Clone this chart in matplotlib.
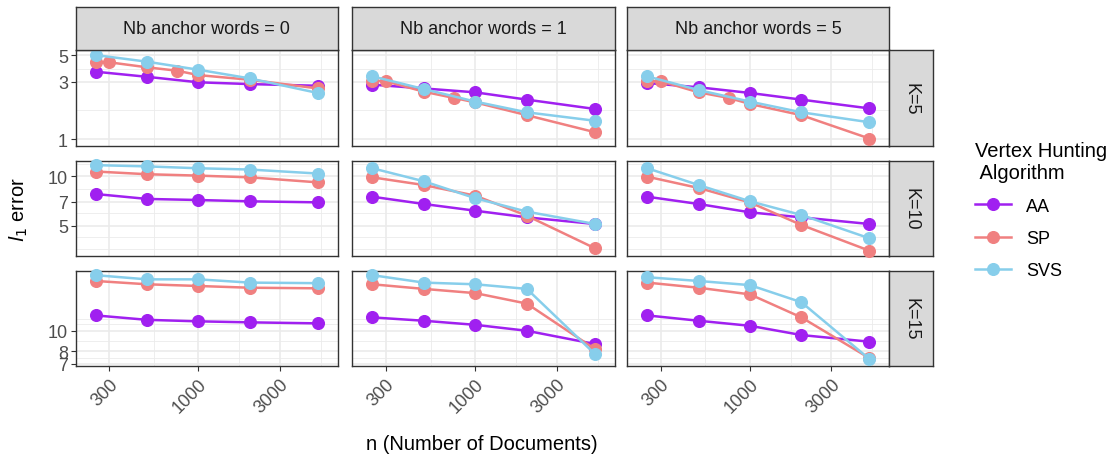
import matplotlib
matplotlib.use("Agg")
import matplotlib.pyplot as plt
from matplotlib.lines import Line2D
import numpy as np

plt.rcParams['font.family'] = ['Liberation Sans', 'DejaVu Sans']

# ---------------- data ----------------
anchor_words = [0, 1, 5]
K_values = [5, 10, 15]
algorithms = ["AA", "SP", "SVS"]
n_docs = [250, 500, 1000, 2000, 5000]
n_docs_sp_k5 = [250, 300, 500, 750, 1000, 2000, 5000]

aa_k5_a0 = [3.64, 3.30, 2.97, 2.87, 2.78]
sp_k5_a0 = [4.40, 4.36, 3.96, 3.71, 3.41, 3.12, 2.64]
svs_k5_a0 = [5.01, 4.41, 3.78, 3.20, 2.42]
aa_k5_a1 = [2.84, 2.64, 2.45, 2.13, 1.78]
sp_k5_a1 = [3.06, 3.03, 2.48, 2.20, 2.02, 1.58, 1.14]
svs_k5_a1 = [3.33, 2.61, 2.05, 1.67, 1.42]
aa_k5_a5 = [2.93, 2.70, 2.42, 2.13, 1.80]
sp_k5_a5 = [3.03, 3.03, 2.45, 2.20, 1.96, 1.58, 1.01]
svs_k5_a5 = [3.33, 2.56, 2.05, 1.67, 1.38]

aa_k10_a0 = [7.80, 7.28, 7.17, 7.04, 6.94]
sp_k10_a0 = [10.7, 10.3, 10.1, 9.86, 9.19]
svs_k10_a0 = [11.7, 11.5, 11.2, 11.0, 10.4]
aa_k10_a1 = [7.51, 6.78, 6.17, 5.62, 5.12]
sp_k10_a1 = [9.86, 8.85, 7.62, 5.75, 3.64]
svs_k10_a1 = [11.2, 9.33, 7.35, 6.09, 5.12]
aa_k10_a5 = [7.51, 6.78, 6.03, 5.62, 5.12]
sp_k10_a5 = [9.95, 8.49, 6.93, 5.05, 3.52]
svs_k10_a5 = [11.2, 8.85, 7.04, 5.81, 4.19]

aa_k15_a0 = [11.8, 11.25, 11.07, 10.95, 10.83]
sp_k15_a0 = [17.1, 16.5, 16.2, 15.9, 15.8]
svs_k15_a0 = [18.2, 17.4, 17.4, 16.8, 16.7]
aa_k15_a1 = [11.55, 11.14, 10.66, 10.0, 8.67]
sp_k15_a1 = [16.5, 15.7, 15.0, 13.4, 8.21]
svs_k15_a1 = [18.2, 16.8, 16.5, 15.7, 7.78]
aa_k15_a5 = [11.8, 11.14, 10.55, 9.55, 8.89]
sp_k15_a5 = [16.8, 15.9, 14.8, 11.55, 7.45]
svs_k15_a5 = [17.8, 17.1, 16.35, 13.6, 7.38]

x_ticks = [300, 1000, 3000]
x_tick_labels = ["300", "1000", "3000"]
y_ticks_k5 = [1, 3, 5]
y_ticks_k10 = [5, 7, 10]
y_ticks_k15 = [7, 8, 10]

# ---------------- assemble ----------------
series = {
    (5, 0): {"AA": (n_docs, aa_k5_a0), "SP": (n_docs_sp_k5, sp_k5_a0), "SVS": (n_docs, svs_k5_a0)},
    (5, 1): {"AA": (n_docs, aa_k5_a1), "SP": (n_docs_sp_k5, sp_k5_a1), "SVS": (n_docs, svs_k5_a1)},
    (5, 5): {"AA": (n_docs, aa_k5_a5), "SP": (n_docs_sp_k5, sp_k5_a5), "SVS": (n_docs, svs_k5_a5)},
    (10, 0): {"AA": (n_docs, aa_k10_a0), "SP": (n_docs, sp_k10_a0), "SVS": (n_docs, svs_k10_a0)},
    (10, 1): {"AA": (n_docs, aa_k10_a1), "SP": (n_docs, sp_k10_a1), "SVS": (n_docs, svs_k10_a1)},
    (10, 5): {"AA": (n_docs, aa_k10_a5), "SP": (n_docs, sp_k10_a5), "SVS": (n_docs, svs_k10_a5)},
    (15, 0): {"AA": (n_docs, aa_k15_a0), "SP": (n_docs, sp_k15_a0), "SVS": (n_docs, svs_k15_a0)},
    (15, 1): {"AA": (n_docs, aa_k15_a1), "SP": (n_docs, sp_k15_a1), "SVS": (n_docs, svs_k15_a1)},
    (15, 5): {"AA": (n_docs, aa_k15_a5), "SP": (n_docs, sp_k15_a5), "SVS": (n_docs, svs_k15_a5)},
}
y_ticks = {5: y_ticks_k5, 10: y_ticks_k10, 15: y_ticks_k15}
y_lims = {5: (0.88, 5.52), 10: (3.28, 12.35), 15: (6.82, 19.1)}
y_minor = {5: [1.73, 3.87], 10: [3.6, 4.25, 6.0, 8.4, 11.9], 15: [7.45, 8.95, 10.7, 11.4]}
x_minor = [547.7, 1732, 5196]
x_lim = (191, 6546)

colors = {"AA": "#A020F0", "SP": "#F08080", "SVS": "#87CEEB"}

W, H = 1120, 460
fig = plt.figure(figsize=(W / 100, H / 100), dpi=100)

col_x = [(75.7, 337.7), (352.3, 615.0), (627.3, 889.3)]
row_y = [(51.0, 146.7), (162.3, 256.7), (271.7, 367.3)]
strip_top = 8.0
strip_right = 933.3

def fig_rect(x0, y0, x1, y1):
    return [x0 / W, 1 - y1 / H, (x1 - x0) / W, (y1 - y0) / H]

grid_col = "#EBEBEB"
border_col = "#333333"
tick_txt = "#4D4D4D"
MS = 8.4
LW = 1.8

for r, K in enumerate(K_values):
    for c, a in enumerate(anchor_words):
        x0, x1 = col_x[c]
        y0, y1 = row_y[r]
        ax = fig.add_axes(fig_rect(x0, y0, x1, y1))
        ax.set_xscale("log")
        ax.set_yscale("log")
        ax.set_xlim(*x_lim)
        ax.set_ylim(*y_lims[K])
        for xv in x_minor:
            ax.axvline(xv, color=grid_col, lw=0.6, zorder=0)
        for yv in y_minor[K]:
            ax.axhline(yv, color=grid_col, lw=0.6, zorder=0)
        for xv in x_ticks:
            ax.axvline(xv, color=grid_col, lw=1.2, zorder=0)
        for yv in y_ticks[K]:
            ax.axhline(yv, color=grid_col, lw=1.2, zorder=0)
        for alg in algorithms:
            xs, ys = series[(K, a)][alg]
            ax.plot(xs, ys, color=colors[alg], lw=LW, marker="o", ms=MS,
                    zorder=3, clip_on=False)
        ax.set_xticks(x_ticks)
        ax.xaxis.set_minor_locator(matplotlib.ticker.NullLocator())
        ax.yaxis.set_minor_locator(matplotlib.ticker.NullLocator())
        ax.set_yticks(y_ticks[K])
        if c == 0:
            ax.set_yticklabels([str(v) for v in y_ticks[K]], fontsize=13, color=tick_txt)
            ax.tick_params(axis="y", length=3.5, width=0.8, color=border_col, pad=2)
        else:
            ax.tick_params(axis="y", length=0, labelleft=False)
        if r == 2:
            ax.set_xticklabels(x_tick_labels, fontsize=13, color=tick_txt,
                               rotation=45, ha="right", va="top", rotation_mode="anchor")
            ax.tick_params(axis="x", length=3.5, width=0.8, color=border_col, pad=3)
        else:
            ax.tick_params(axis="x", length=0, labelbottom=False)
        for s in ax.spines.values():
            s.set_color(border_col)
            s.set_linewidth(1.0)
        if r == 0:
            sax = fig.add_axes(fig_rect(x0, strip_top, x1, y0))
            sax.set_facecolor("#D9D9D9")
            sax.set_xticks([]); sax.set_yticks([])
            for s in sax.spines.values():
                s.set_color(border_col); s.set_linewidth(1.0)
            sax.text(0.5, 0.5, f"Nb anchor words = {a}", ha="center", va="center",
                     fontsize=13, color="#1A1A1A", transform=sax.transAxes)
        if c == 2:
            sax = fig.add_axes(fig_rect(x1, y0, strip_right, y1))
            sax.set_facecolor("#D9D9D9")
            sax.set_xticks([]); sax.set_yticks([])
            for s in sax.spines.values():
                s.set_color(border_col); s.set_linewidth(1.0)
            sax.text(0.5, 0.5, f"K={K}", ha="center", va="center", rotation=-90,
                     fontsize=13, color="#1A1A1A", transform=sax.transAxes)

fig.text(482 / W, 1 - 445 / H, "n (Number of Documents)", ha="center", va="center",
         fontsize=14.5, color="#000000")
fig.text(19 / W, 1 - 210 / H, r"$l_1$ error", ha="center", va="center", rotation=90,
         fontsize=14.5, color="#000000")

handles = [Line2D([0], [0], color=colors[alg], lw=LW, marker="o", ms=MS) for alg in algorithms]
leg = fig.legend(handles, algorithms, loc="upper left", bbox_to_anchor=(959 / W, 1 - 126 / H),
                 frameon=False, title="Vertex Hunting\n Algorithm", fontsize=13,
                 title_fontsize=14.5, handlelength=2.0, labelspacing=0.85, alignment="left")

fig.savefig("out.png", dpi=100)
